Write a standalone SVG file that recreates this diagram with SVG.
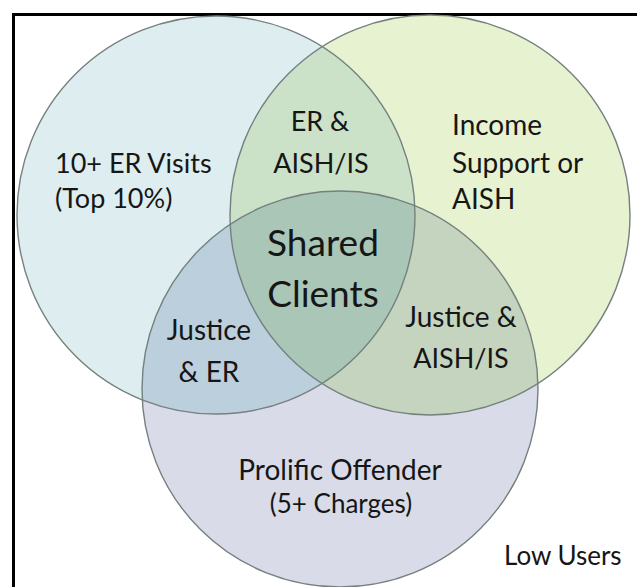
<svg xmlns="http://www.w3.org/2000/svg" width="637" height="587" viewBox="0 0 637 587">
  <style>
    .lbl { font-family: Lato, "Open Sans", "Liberation Sans", sans-serif; fill: #161616; }
    .mid { text-anchor: middle; }
    .ring { fill: none; stroke: #75817f; stroke-width: 1.4; }
  </style>
  <defs>
    <circle id="cL" cx="216" cy="215" r="199"/>
    <circle id="cR" cx="430" cy="215" r="200"/>
    <circle id="cB" cx="340" cy="389" r="198"/>
    <clipPath id="clipL"><use href="#cL"/></clipPath>
    <clipPath id="clipR"><use href="#cR"/></clipPath>
  </defs>
  <rect width="637" height="587" fill="#ffffff"/>
  <!-- frame -->
  <path d="M13.5 587 V14.5 H637" fill="none" stroke="#000000" stroke-width="3"/>

  <!-- set fills -->
  <g id="set-er">
    <use href="#cL" fill="#deedf0"/>
  </g>
  <g id="set-income">
    <use href="#cR" fill="#e7f2d0"/>
  </g>
  <g id="set-justice">
    <use href="#cB" fill="#d9dce8"/>
  </g>
  <!-- pairwise overlaps -->
  <g id="overlap-er-income">
    <use href="#cR" fill="#cbe2c9" clip-path="url(#clipL)"/>
  </g>
  <g id="overlap-justice-er">
    <use href="#cB" fill="#bccfdc" clip-path="url(#clipL)"/>
  </g>
  <g id="overlap-justice-income">
    <use href="#cB" fill="#c5d4bf" clip-path="url(#clipR)"/>
  </g>
  <!-- triple overlap -->
  <g id="shared" clip-path="url(#clipR)">
    <use href="#cB" fill="#a9c6b7" clip-path="url(#clipL)"/>
  </g>
  <!-- outlines -->
  <g id="outlines">
    <use href="#cL" class="ring"/>
    <use href="#cR" class="ring"/>
    <use href="#cB" class="ring"/>
  </g>

  <!-- labels -->
  <g id="labels" font-size="27">
    <text class="lbl" x="55" y="173">10+ ER Visits</text>
    <text class="lbl" x="55" y="208">(Top 10%)</text>

    <text class="lbl mid" x="320" y="131">ER &amp;</text>
    <text class="lbl mid" x="321" y="173">AISH/IS</text>

    <text class="lbl" x="452" y="135" font-size="28">Income</text>
    <text class="lbl" x="452" y="173" font-size="28">Support or</text>
    <text class="lbl" x="452" y="209" font-size="28">AISH</text>

    <text class="lbl mid" x="323" y="256" font-size="37">Shared</text>
    <text class="lbl mid" x="323" y="307" font-size="37">Clients</text>

    <text class="lbl mid" x="209" y="340" font-size="28">Justice</text>
    <text class="lbl mid" x="209" y="382" font-size="28">&amp; ER</text>

    <text class="lbl mid" x="461" y="327" font-size="28">Justice &amp;</text>
    <text class="lbl mid" x="461" y="368">AISH/IS</text>

    <text class="lbl mid" x="340" y="480" font-size="28">Prolific Offender</text>
    <text class="lbl mid" x="341" y="513" font-size="26">(5+ Charges)</text>

    <text class="lbl" x="504" y="565" font-size="26">Low Users</text>
  </g>
</svg>
